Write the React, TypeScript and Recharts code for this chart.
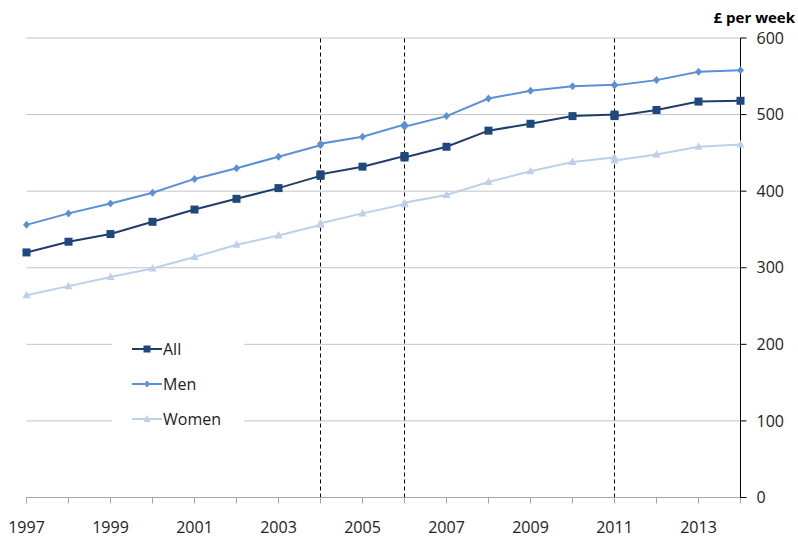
import { LineChart, Line, XAxis, YAxis, CartesianGrid, ReferenceLine } from 'recharts'

// years repeat where the series has a break (old and new basis)
const years = [1997, 1998, 1999, 2000, 2001, 2002, 2003, 2004, 2004, 2005, 2006, 2006, 2007, 2008, 2009, 2010, 2011, 2011, 2012, 2013, 2014]
const allValues = [320, 334, 344, 360, 376, 390, 404, 420, 422, 432, 446, 444, 458, 479, 488, 498, 500, 498, 506, 517, 518]
const menValues = [356, 371, 384, 398, 416, 430, 445, 460, 462, 471, 487, 484, 498, 521, 531, 537, 539, 538, 545, 556, 558]
const womenValues = [264, 276, 288, 299, 314, 330, 342, 356, 358, 371, 383, 385, 395, 412, 426, 438, 444, 440, 448, 458, 461]

const breakYears = [2004, 2006, 2011]
const xTicks = [1997, 1998, 1999, 2000, 2001, 2002, 2003, 2004, 2005, 2006, 2007, 2008, 2009, 2010, 2011, 2012, 2013, 2014]
const yTicks = [0, 100, 200, 300, 400, 500, 600]

const data = years.map((year, i) => ({
  year,
  all: allValues[i],
  men: menValues[i],
  women: womenValues[i],
}))

const ALL = '#1f3d6b'
const ALL_MARK = '#1f497d'
const MEN = '#5b8fd6'
const WOMEN = '#bcd0ea'
const FONT = '"Open Sans", "Noto Sans", sans-serif'

function SquareDot(props: any) {
  const { cx, cy } = props
  if (cx == null || cy == null) return null
  return <rect x={cx - 4} y={cy - 4} width={8} height={8} fill={ALL_MARK} />
}

function DiamondDot(props: any) {
  const { cx, cy } = props
  if (cx == null || cy == null) return null
  return <polygon points={`${cx},${cy - 4} ${cx + 3.5},${cy} ${cx},${cy + 4} ${cx - 3.5},${cy}`} fill={MEN} />
}

function TriangleDot(props: any) {
  const { cx, cy } = props
  if (cx == null || cy == null) return null
  return <polygon points={`${cx},${cy - 4.5} ${cx + 4},${cy + 3} ${cx - 4},${cy + 3}`} fill={WOMEN} />
}

const legendItems = [
  { name: 'All', color: ALL, mark: 'square' },
  { name: 'Men', color: MEN, mark: 'diamond' },
  { name: 'Women', color: WOMEN, mark: 'triangle' },
]

function LegendMark({ color, mark }: { color: string; mark: string }) {
  return (
    <svg width={30} height={10} style={{ display: 'block' }}>
      <line x1={0} y1={5} x2={30} y2={5} stroke={color} strokeWidth={2} />
      {mark === 'square' && <rect x={11.5} y={1.5} width={7} height={7} fill={ALL_MARK} />}
      {mark === 'diamond' && <polygon points="15,1.5 18,5 15,8.5 12,5" fill={color} />}
      {mark === 'triangle' && <polygon points="15,1 18.5,8 11.5,8" fill={color} />}
    </svg>
  )
}

export default function App() {
  return (
    <div style={{ position: 'absolute', left: 0, top: 0, width: 798, height: 538, background: '#fff', fontFamily: FONT }}>
      <LineChart width={798} height={538} data={data} margin={{ top: 38, right: 0, bottom: 0.5, left: 26.5 }}>
        <CartesianGrid vertical={false} stroke="#c4c4c4" strokeWidth={1} />
        <XAxis
          dataKey="year"
          type="number"
          domain={[1997, 2014]}
          ticks={xTicks}
          interval={0}
          tickFormatter={(v: number) => (v % 2 === 1 ? String(v) : '')}
          axisLine={{ stroke: '#a6a6a6' }}
          tickLine={{ stroke: '#a6a6a6' }}
          tickSize={6}
          tickMargin={18}
          height={40}
          tick={{ fill: '#222', fontSize: 16, fontFamily: FONT }}
        />
        <YAxis
          orientation="right"
          domain={[0, 600]}
          ticks={yTicks}
          width={57.5}
          axisLine={{ stroke: '#000' }}
          tickLine={{ stroke: '#000' }}
          tickSize={6}
          tickMargin={10}
          tick={{ fill: '#222', fontSize: 16, fontFamily: FONT, textAnchor: 'start' }}
        />
        {breakYears.map((y) => (
          <ReferenceLine key={y} x={y} stroke="#000" strokeDasharray="4 3" strokeWidth={1} />
        ))}
        <Line dataKey="women" stroke={WOMEN} strokeWidth={2} dot={<TriangleDot />} isAnimationActive={false} />
        <Line dataKey="men" stroke={MEN} strokeWidth={2} dot={<DiamondDot />} isAnimationActive={false} />
        <Line dataKey="all" stroke={ALL} strokeWidth={2} dot={<SquareDot />} isAnimationActive={false} />
      </LineChart>
      <div
        style={{
          position: 'absolute',
          right: 3,
          top: 7,
          fontWeight: 700,
          fontSize: 15,
          color: '#000',
        }}
      >
        £ per week
      </div>
      <div
        style={{
          position: 'absolute',
          left: 112,
          top: 332,
          width: 132,
          height: 102,
          background: '#fff',
        }}
      >
        {legendItems.map((item, i) => (
          <div
            key={item.name}
            style={{ position: 'absolute', left: 20, top: 6 + i * 35, display: 'flex', alignItems: 'center', height: 22 }}
          >
            <LegendMark color={item.color} mark={item.mark} />
            <span style={{ fontSize: 16, color: '#222', marginLeft: 1 }}>{item.name}</span>
          </div>
        ))}
      </div>
    </div>
  )
}
